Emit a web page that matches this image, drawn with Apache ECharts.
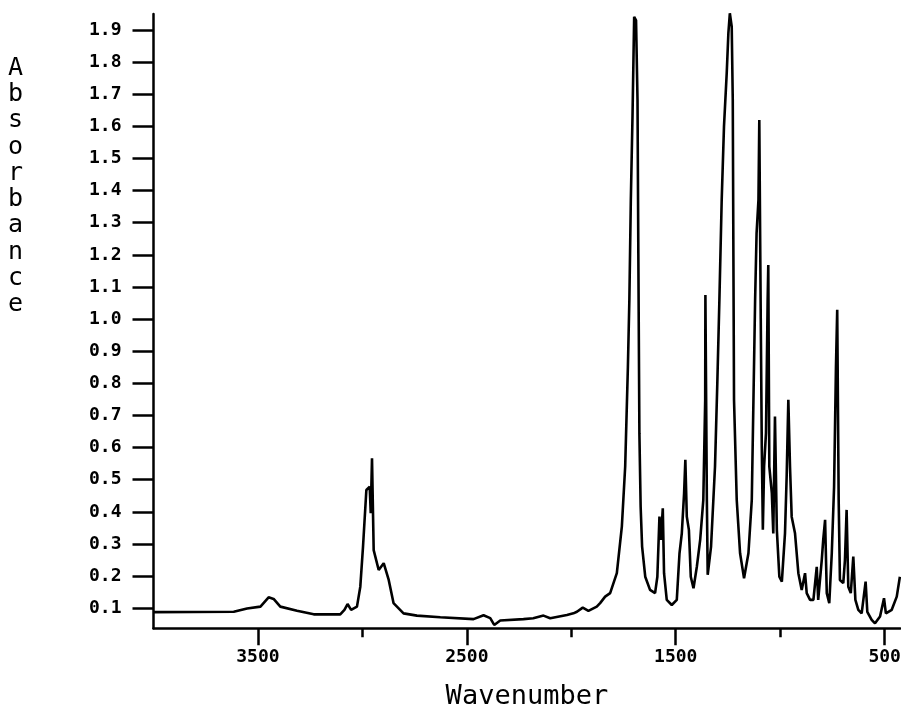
<!DOCTYPE html>
<html>
<head>
<meta charset="utf-8">
<script src="https://cdn.jsdelivr.net/npm/echarts@6/dist/echarts.min.js"></script>
<style>
html,body{margin:0;padding:0;background:#fff;}
#chart{width:901px;height:714px;}
</style>
</head>
<body>
<div id="chart"></div>
<script>
// Wavenumber (cm-1) and absorbance values
const wavenumbers = [4000,3616,3552,3488,3449,3425,3393,3313,3233,3106,3086,3071,3054,3026,3010,2997,2981,2965,2960,2954,2946,2922,2898,2874,2851,2803,2739,2627,2468,2420,2388,2369,2340,2229,2182,2133,2101,2021,1990,1973,1945,1918,1878,1862,1838,1814,1782,1758,1742,1729,1722,1715,1707,1699,1690,1683,1679,1674,1668,1661,1646,1623,1599,1588,1578,1571,1562,1556,1543,1519,1495,1482,1471,1460,1454,1447,1437,1428,1415,1399,1383,1368,1359,1358,1351,1347,1331,1312,1301,1291,1280,1269,1256,1248,1241,1232,1227,1224,1221,1208,1192,1173,1152,1136,1128,1120,1113,1104,1100,1093,1088,1083,1077,1068,1060,1057,1052,1040,1033,1025,1016,1004,992,977,969,961,953,945,929,913,897,881,873,857,841,825,818,801,794,785,777,765,753,742,733,727,720,714,698,690,682,674,662,650,640,626,610,591,583,562,546,522,503,494,466,442,427];
const absorbance = [0.088,0.089,0.099,0.105,0.134,0.129,0.105,0.092,0.081,0.081,0.095,0.113,0.095,0.105,0.167,0.292,0.468,0.478,0.396,0.567,0.281,0.219,0.240,0.188,0.116,0.084,0.077,0.072,0.066,0.078,0.069,0.048,0.062,0.066,0.069,0.077,0.069,0.079,0.084,0.089,0.102,0.092,0.105,0.116,0.136,0.147,0.209,0.354,0.541,0.852,1.06,1.371,1.63,1.941,1.93,1.683,1.2,0.645,0.416,0.292,0.198,0.157,0.147,0.198,0.385,0.313,0.411,0.209,0.126,0.110,0.126,0.271,0.333,0.458,0.562,0.385,0.344,0.198,0.162,0.229,0.313,0.437,0.749,1.075,0.437,0.204,0.292,0.541,0.800,1.06,1.371,1.6,1.765,1.89,1.952,1.91,1.683,1.2,0.749,0.437,0.271,0.193,0.271,0.437,0.749,1.06,1.267,1.371,1.62,1.0,0.6,0.344,0.541,0.645,1.06,1.168,0.541,0.458,0.333,0.697,0.344,0.198,0.183,0.333,0.510,0.749,0.541,0.385,0.333,0.209,0.157,0.209,0.147,0.126,0.126,0.229,0.126,0.250,0.313,0.375,0.147,0.116,0.271,0.478,0.852,1.029,0.437,0.188,0.178,0.250,0.406,0.167,0.147,0.261,0.126,0.095,0.084,0.183,0.089,0.064,0.053,0.074,0.131,0.084,0.095,0.136,0.198];
const yTicks = [0.1,0.2,0.3,0.4,0.5,0.6,0.7,0.8,0.9,1.0,1.1,1.2,1.3,1.4,1.5,1.6,1.7,1.8,1.9];
const xLabelTicks = [3500,2500,1500,500];
const xMinorTicks = [3000,2000,1000];
const yTitle = 'Absorbance';
const xTitle = 'Wavenumber';

const points = wavenumbers.map((w, i) => [w, absorbance[i]]);
const mono = 'DejaVu Sans Mono';
const chart = echarts.init(document.getElementById('chart'), null, {renderer: 'canvas'});
chart.setOption({
  animation: false,
  backgroundColor: '#ffffff',
  title: {
    text: yTitle.split('').join('\n'),
    left: 8, top: 55, padding: 0,
    textStyle: {fontFamily: mono, fontSize: 25, fontWeight: 'normal', lineHeight: 26.3, color: '#000'}
  },
  grid: {left: 153.5, right: 0.7, top: 13.9, bottom: 85.7, containLabel: false, outerBoundsMode: 'none'},
  xAxis: [{
    type: 'value', inverse: true, min: 425, max: 4000, position: 'bottom',
    name: xTitle, nameLocation: 'middle', nameGap: 55,
    nameTextStyle: {fontFamily: mono, fontSize: 27, color: '#000'},
    axisLine: {show: true, onZero: false, lineStyle: {color: '#000', width: 2.5}},
    axisTick: {show: true, customValues: xLabelTicks, length: 17, lineStyle: {color: '#000', width: 2.5}},
    axisLabel: {show: true, customValues: xLabelTicks, margin: 20, fontFamily: mono, fontWeight: 'bold', fontSize: 18, color: '#000',
      formatter: v => String(Math.round(v))},
    splitLine: {show: false}
  }, {
    type: 'value', inverse: true, min: 425, max: 4000, position: 'bottom',
    axisLine: {show: false, onZero: false},
    axisTick: {show: true, customValues: xMinorTicks, length: 9, lineStyle: {color: '#000', width: 2.5}},
    axisLabel: {show: false},
    splitLine: {show: false}
  }],
  yAxis: {
    type: 'value', min: 0.0375, max: 1.95,
    axisLine: {show: true, onZero: false, lineStyle: {color: '#000', width: 2.5}},
    axisTick: {show: true, customValues: yTicks, length: 21, lineStyle: {color: '#000', width: 2.5}},
    axisLabel: {show: true, customValues: yTicks, margin: 32, fontFamily: mono, fontWeight: 'bold', fontSize: 18, color: '#000',
      formatter: v => Number(v).toFixed(1)},
    splitLine: {show: false}
  },
  series: [{
    type: 'line', xAxisIndex: 0, yAxisIndex: 0, data: points,
    showSymbol: false, smooth: false,
    lineStyle: {color: '#000', width: 2.6}
  }]
});
</script>
</body>
</html>
